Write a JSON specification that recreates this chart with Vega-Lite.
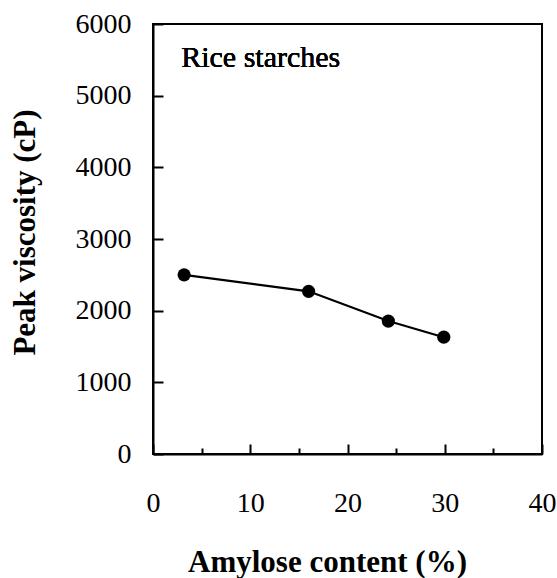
{
  "$schema": "https://vega.github.io/schema/vega-lite/v6.json",
  "width": 389,
  "height": 430,
  "autosize": "none",
  "padding": {"left": 153, "top": 24, "right": 15, "bottom": 124},
  "background": "white",
  "config": {
    "view": {"stroke": "black", "strokeWidth": 2},
    "font": "Liberation Serif",
    "axis": {
      "grid": false,
      "domainColor": "black",
      "domainWidth": 2,
      "tickColor": "black",
      "tickWidth": 2,
      "labelColor": "black",
      "labelFont": "Liberation Serif",
      "labelFontSize": 28,
      "titleFont": "Liberation Serif",
      "titleFontSize": 31,
      "titleFontWeight": "bold",
      "titleColor": "black"
    }
  },
  "data": {
    "values": [
      {"amylose": 3.2, "viscosity": 2500},
      {"amylose": 16.0, "viscosity": 2270},
      {"amylose": 24.2, "viscosity": 1855},
      {"amylose": 29.9, "viscosity": 1630}
    ]
  },
  "layer": [
    {
      "mark": {"type": "line", "color": "black", "strokeWidth": 2.2},
      "encoding": {
        "x": {
          "field": "amylose",
          "type": "quantitative",
          "scale": {"domain": [0, 40], "nice": false},
          "axis": {
            "values": [0, 5, 10, 15, 20, 25, 30, 35, 40],
            "labelExpr": "datum.value % 10 === 0 ? datum.label : ''",
            "tickSize": {"condition": {"test": "datum.value % 10 === 0", "value": -10}, "value": -6},
            "labelPadding": 45,
            "labelFlush": false,
            "labelOverlap": false,
            "title": "Amylose content (%)",
            "titleX": 174,
            "titleY": 108,
            "titleBaseline": "middle",
            "titleAlign": "center"
          }
        },
        "y": {
          "field": "viscosity",
          "type": "quantitative",
          "scale": {"domain": [0, 6000], "nice": false},
          "axis": {
            "values": [0, 500, 1000, 1500, 2000, 2500, 3000, 3500, 4000, 4500, 5000, 5500, 6000],
            "labelExpr": "datum.value % 1000 === 0 ? datum.label : ''",
            "format": "d",
            "tickSize": {"condition": {"test": "datum.value % 1000 === 0", "value": -10}, "value": -6},
            "labelPadding": 32,
            "labelFlush": false,
            "labelOverlap": false,
            "title": "Peak viscosity (cP)",
            "titleX": -128,
            "titleY": 208,
            "titleAngle": -90,
            "titleBaseline": "middle",
            "titleAlign": "center"
          }
        }
      }
    },
    {
      "mark": {"type": "point", "filled": true, "color": "black", "opacity": 1, "size": 175},
      "encoding": {
        "x": {"field": "amylose", "type": "quantitative"},
        "y": {"field": "viscosity", "type": "quantitative"}
      }
    },
    {
      "mark": {"type": "text", "font": "Liberation Serif", "fontSize": 30, "align": "left", "baseline": "middle", "color": "black"},
      "encoding": {
        "x": {"datum": 2.9},
        "y": {"datum": 5530},
        "text": {"value": "Rice starches"}
      }
    }
  ]
}
